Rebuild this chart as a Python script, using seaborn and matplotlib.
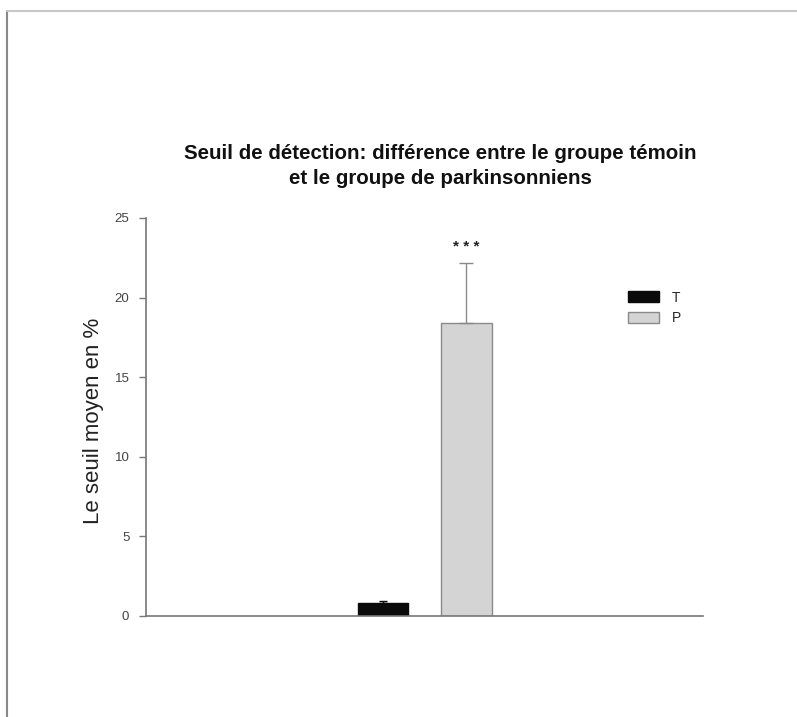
import matplotlib
matplotlib.use("Agg")
import matplotlib.pyplot as plt
import seaborn as sns
import pandas as pd
from matplotlib.lines import Line2D
from matplotlib.patches import Patch

groups = ["T", "P"]
means = [0.82, 18.4]
errors_up = [0.1, 3.8]
bar_colors = ["#0a0a0a", "#d4d4d4"]
edge_colors = ["#0a0a0a", "#8a8a8a"]
yticks = [0, 5, 10, 15, 20, 25]
title = "Seuil de détection: différence entre le groupe témoin\net le groupe de parkinsonniens"
ylabel = "Le seuil moyen en %"
signif = "* * *"

df = pd.DataFrame({"cat": ["" for _ in groups], "groupe": groups, "seuil": means})

sns.set_style("white")
plt.rcParams['font.family'] = ['Liberation Sans', 'DejaVu Sans']

fig = plt.figure(figsize=(7.97, 7.17), dpi=100)
ax = fig.add_axes([146/797, 1-616/717, 557/797, (616-218)/717])

sns.barplot(data=df, x="cat", y="seuil", hue="groupe", hue_order=groups,
            palette=bar_colors, width=0.8, gap=0.4, errorbar=None, legend=False,
            ax=ax, saturation=1)

bars = [p for p in ax.patches]
for p, ec in zip(bars, edge_colors):
    p.set_edgecolor(ec)
    p.set_linewidth(1.0)

xs = [p.get_x() + p.get_width()/2 for p in bars]
for x, m, e, ec in zip(xs, means, errors_up, edge_colors):
    ax.errorbar([x], [m], yerr=[[0], [e]], fmt="none",
                ecolor="#8a8a8a" if ec != "#0a0a0a" else "#0a0a0a",
                elinewidth=1.0, capsize=5 if e > 1 else 3, capthick=1.0)

ax.text(xs[1], means[1] + errors_up[1] + 0.55, signif, ha="center", va="bottom",
        fontsize=11, fontweight="bold", color="#222222")

ax.set_xlim(-1.335, 1.333)
ax.set_ylim(0, 25)
ax.set_yticks(yticks)
ax.set_yticklabels([str(t) for t in yticks], fontsize=9.5, color="#444444")
ax.set_xticks([])
ax.set_xlabel("")
ax.set_ylabel(ylabel, fontsize=16, color="#222222")
ax.yaxis.set_label_coords(-0.075, 0.49)
ax.tick_params(axis="y", direction="out", length=5, width=1, color="#777777", left=True, pad=7)
for s in ["top", "right"]:
    ax.spines[s].set_visible(False)
for s in ["left", "bottom"]:
    ax.spines[s].set_color("#777777")
    ax.spines[s].set_linewidth(1.2)

fig.text(440/797, 1-166/717, title, ha="center", va="center", fontsize=14.8,
         fontweight="bold", color="#111111", linespacing=1.45)

handles = [Patch(facecolor=c, edgecolor=e, label=g) for g, c, e in zip(groups, bar_colors, edge_colors)]
fig.legend(handles=handles, loc="upper left", bbox_to_anchor=(615/797, 1-278/717),
           frameon=False, fontsize=10, handlelength=2.3, handleheight=0.8,
           labelspacing=0.5, handletextpad=0.9)

fig.add_artist(Line2D([7/797, 7/797], [0, 1-11/717], color="#888888", lw=1.5))
fig.add_artist(Line2D([7/797, 1], [1-11/717, 1-11/717], color="#c8c8c8", lw=1.5))

fig.savefig("out.png", dpi=100, facecolor="white")
